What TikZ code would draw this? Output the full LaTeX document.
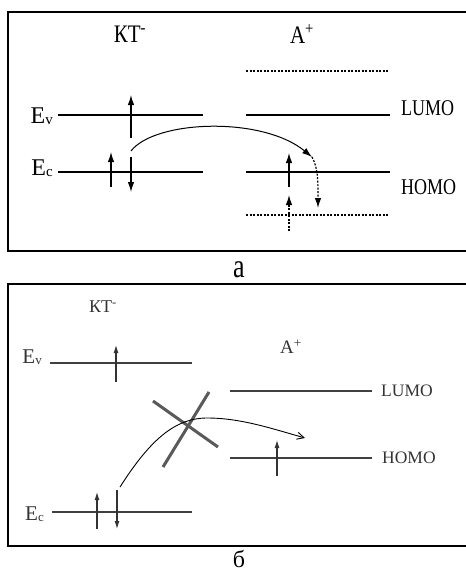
\documentclass[tikz,border=0pt]{standalone}
\usepackage{fontspec}
\usepackage{graphicx}
\setmainfont{Liberation Serif}
\usetikzlibrary{arrows.meta}
\newcommand{\vstretch}[2][1.25]{\scalebox{1}[#1]{#2}}
\newcommand{\lowsub}[2]{\raisebox{-1.5pt}{\fontsize{#1}{#1}\selectfont #2}}
\tikzset{
  frame/.style={line width=2pt},
  lvl/.style={line width=1.2pt},
  dotlvl/.style={line width=1.2pt,dash pattern=on 2pt off 1.5pt},
  spin/.style={line width=1.2pt,-{Latex[length=10pt,width=6.5pt]}},
  dspin/.style={spin,dash pattern=on 2pt off 1.5pt},
  lbl/.style={font=\fontsize{19}{21}\selectfont,inner sep=0pt},
  blvl/.style={line width=1.3pt,draw=black!75},
  bspin/.style={line width=1.1pt,draw=black!80,-{Latex[length=8pt,width=5pt]}},
  blbl/.style={font=\fontsize{17.5}{20}\selectfont,inner sep=0pt,text=black!80},
  cross/.style={line width=3pt,draw=black!65},
}
\begin{document}
\begin{tikzpicture}[x=1pt,y=-1pt]
\useasboundingbox (0,0) rectangle (466,571);
% ---------- panel a ----------
\draw[frame] (475,12) -- (8,12) -- (8,251) -- (475,251);
\node[lbl,font=\fontsize{21}{23}\selectfont] (kta) at (130,34) {\vstretch[1.2]{КТ\textsuperscript{-}}};
\node[lbl,font=\fontsize{21}{23}\selectfont] (apa) at (302,34) {\vstretch[1.2]{A\textsuperscript{+}}};
\coordinate (a1) at (246,71);  \coordinate (a2) at (388,71);
\coordinate (a3) at (58,115);  \coordinate (a4) at (203,115);
\coordinate (a5) at (246,115); \coordinate (a6) at (390,115);
\coordinate (a7) at (58,172);  \coordinate (a8) at (203,172);
\coordinate (a9) at (246,172); \coordinate (a10) at (390,172);
\coordinate (a11) at (246,215); \coordinate (a12) at (388,215);
\draw[dotlvl] (a1) -- (a2);
\draw[lvl] (a3) -- (a4);
\draw[lvl] (a5) -- (a6);
\draw[lvl] (a7) -- (a8);
\draw[lvl] (a9) -- (a10);
\draw[dotlvl] (a11) -- (a12);
\node[lbl,font=\fontsize{24}{26}\selectfont,anchor=base east] (eva) at (53,123) {E\lowsub{15}{v}};
\node[lbl,font=\fontsize{24}{26}\selectfont,anchor=base east] (eca) at (53,175) {E\lowsub{15}{c}};
\node[lbl,anchor=west,font=\fontsize{18}{20}\selectfont] (lumoa) at (401,108) {\vstretch{LUMO}};
\node[lbl,anchor=west,font=\fontsize{18}{20}\selectfont] (homoa) at (401,187) {\vstretch{HOMO}};
% spins
\coordinate (s1a) at (131,138); \coordinate (s1b) at (131,95);
\coordinate (s2a) at (111,187); \coordinate (s2b) at (111,152);
\coordinate (s3a) at (131,157); \coordinate (s3b) at (131,192);
\coordinate (s4a) at (289,187); \coordinate (s4b) at (289,153);
\coordinate (s5a) at (289,231); \coordinate (s5b) at (289,195);
\draw[spin] (s1a) -- (s1b);
\draw[spin] (s2a) -- (s2b);
\draw[spin] (s3a) -- (s3b);
\draw[spin] (s4a) -- (s4b);
\draw[dspin] (s5a) -- (s5b);
% transfer
\coordinate (ta) at (131,151); \coordinate (tb) at (312,157); \coordinate (tc) at (318,208);
\draw[spin,line width=1pt] (ta) .. controls (155,120) and (262,116) .. (tb);
\draw[dspin] (tb) .. controls (318,168) and (318,180) .. (tc);
\node[lbl,font=\fontsize{26}{28}\selectfont,anchor=base] (capa) at (239,277) {\vstretch[1.3]{а}};
% ---------- panel b ----------
\draw[frame] (475,284) -- (8,284) -- (8,546) -- (475,546);
\node[blbl,font=\fontsize{18}{20}\selectfont] (ktb) at (103,307) {КТ\textsuperscript{-}};
\node[blbl,font=\fontsize{19}{21}\selectfont] (apb) at (291,347) {A\textsuperscript{+}};
\coordinate (b1) at (50,363);  \coordinate (b2) at (192,363);
\coordinate (b3) at (230,391); \coordinate (b4) at (372,391);
\coordinate (b5) at (230,458); \coordinate (b6) at (372,458);
\coordinate (b7) at (52,512);  \coordinate (b8) at (192,512);
\draw[blvl] (b1) -- (b2);
\draw[blvl] (b3) -- (b4);
\draw[blvl] (b5) -- (b6);
\draw[blvl] (b7) -- (b8);
\node[blbl,font=\fontsize{21}{23}\selectfont,anchor=base east] (evb) at (42,363) {E\lowsub{13}{v}};
\node[blbl,font=\fontsize{21}{23}\selectfont,anchor=base east] (ecb) at (44,520) {E\lowsub{13}{c}};
\node[blbl,anchor=west] (lumob) at (381,391) {LUMO};
\node[blbl,anchor=west] (homob) at (382,458) {HOMO};
\coordinate (q1a) at (116,382); \coordinate (q1b) at (116,345);
\coordinate (q2a) at (277,476); \coordinate (q2b) at (277,440);
\coordinate (q3a) at (97,529);  \coordinate (q3b) at (97,492);
\coordinate (q4a) at (117,490); \coordinate (q4b) at (117,529);
\draw[bspin] (q1a) -- (q1b);
\draw[bspin] (q2a) -- (q2b);
\draw[bspin] (q3a) -- (q3b);
\draw[bspin] (q4a) -- (q4b);
\coordinate (c1) at (153,401); \coordinate (c2) at (218,447);
\coordinate (c3) at (209,392); \coordinate (c4) at (163,467);
\draw[cross] (c1) -- (c2);
\draw[cross] (c3) -- (c4);
\coordinate (ua) at (120,487); \coordinate (um) at (207,418); \coordinate (ub) at (305,438);
\draw[line width=0.9pt,-{Straight Barb[length=7pt,width=7pt]}] (ua) .. controls (150,440) and (175,418) .. (um) .. controls (240,418) and (270,428) .. (ub);
\node[lbl,font=\fontsize{24}{26}\selectfont,anchor=base] (capb) at (239,567) {б};
\end{tikzpicture}
\end{document}
